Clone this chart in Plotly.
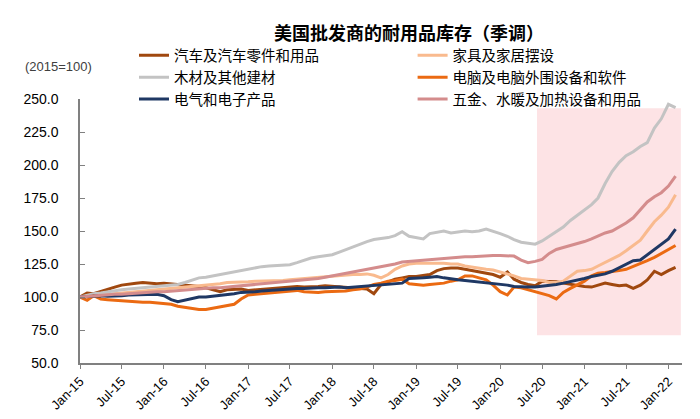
import pandas as pd
import plotly.graph_objects as go

months = pd.date_range("2015-01-01", "2022-02-01", freq="MS").strftime("%Y-%m-%d").tolist()

auto = [100, 103, 102.5, 104, 105.5, 107.5, 109, 110, 110.5, 111, 110.5, 110,
        110.5, 110, 109.5, 109.5, 109, 108, 107, 105.5, 104, 105.5, 106, 106,
        105, 105.5, 106, 106.5, 107, 107.5, 108, 108, 107.5, 107.5, 108, 108.5,
        108, 107.5, 107, 107, 106.5, 106, 102.5, 109.5, 111.5, 113.5, 114.5, 115.5,
        115.5, 116, 117, 120, 121.5, 122, 122, 121, 120, 119, 118, 117,
        115, 119, 113.5, 111, 109.5, 108.5, 112, 112, 111.5, 110.5, 109.5, 109,
        108, 107.5, 109, 110.5, 109.5, 108.5, 109, 106.5, 109, 113, 119.5, 117,
        120, 122.5]

furniture = [100, 100.5, 101, 101.5, 102, 102.5, 103, 103.5, 104, 104.5, 105, 105.5,
             106, 106, 106.5, 107, 107.5, 108, 108.5, 109, 110, 111, 111, 111.5,
             111.5, 112, 112, 112, 112.5, 112.5, 113, 113.5, 113.5, 114, 114.5, 115,
             115.5, 116, 116.5, 117, 117, 117.5, 116.5, 114.5, 117, 121, 123.5, 125,
             125.5, 125.5, 125.5, 126, 125.5, 125, 125, 123.5, 122.5, 122, 121, 120.5,
             119, 117.5, 116, 114, 113.5, 113.5, 112.5, 111, 111, 112, 116, 119.5,
             120, 121, 123.5, 126, 129, 131.5, 135, 139, 143, 150, 157, 162,
             168, 177.5]

lumber = [100, 101.5, 102.5, 103, 104, 104.5, 105.5, 106, 106.5, 107, 107.5, 108,
          108, 108.5, 109.5, 111, 113, 114.5, 115, 116, 117, 118, 119.5, 120.5,
          121, 122, 123, 123.5, 124, 124, 124.5, 126, 128, 129.5, 130.5, 131,
          132, 134, 136, 138, 140, 142, 143.5, 144, 145, 146.5, 149.5, 146,
          145, 144, 148, 149, 150, 148.5, 149, 150, 149.5, 150, 151.5, 150,
          148, 146, 143.5, 141.5, 140.5, 140, 142.5, 146, 149, 153, 158, 162,
          166, 170, 175, 186, 195, 202, 207, 210, 214, 217, 228, 235,
          246, 243.5]

computer = [100, 97.5, 101, 98.5, 98, 97.5, 97, 97, 96.5, 96, 96, 95.5,
            95, 94.5, 93, 92, 91, 90.5, 90.5, 91.5, 92.5, 93.5, 94.5, 98.5,
            101.5, 102, 102.5, 103, 103.5, 104, 104.5, 105, 104, 103.5, 103.5, 104,
            104, 104, 104.5, 105.5, 106, 107.5, 109.5, 110.5, 112, 112.5, 113.5, 110,
            109.5, 109, 109.5, 110, 110.5, 112, 113, 116, 116, 114.5, 113, 109,
            104, 101.5, 107.5, 107, 105.5, 104, 102, 101, 98.5, 103.5, 106.5, 109,
            112, 116, 118, 118.5, 119, 120, 121, 123, 125, 127.5, 130, 133,
            136, 139]

electrical = [100, 100.5, 101, 101, 100.5, 100.5, 101, 101.5, 101.5, 101.5, 102, 102,
              101, 98, 96.5, 97.5, 99, 100, 100, 100.5, 101, 101.5, 102.5, 103.5,
              103.5, 104, 104.5, 105, 105.5, 106, 106, 106.5, 106.5, 107, 107, 107,
              107.5, 107.5, 107, 107.5, 108, 108.5, 108.5, 109.5, 109.5, 110, 110.5, 114,
              114, 114.5, 115, 115.5, 114.5, 113.5, 113, 112.5, 112, 111.5, 111, 110.5,
              110, 109, 108, 107.5, 107.5, 107.5, 108, 109, 109.5, 110.5, 111.5, 113,
              114, 115.5, 116.5, 117.5, 119.5, 122, 125, 127.5, 128, 132, 136, 140,
              144, 151.5]

hardware = [100, 100.5, 101, 101, 101.5, 102, 102, 102.5, 103, 103, 103.5, 104,
            104, 104.5, 104.5, 105, 105.5, 106, 106.5, 107, 107, 107.5, 108, 108,
            108.5, 109, 109.5, 110, 110.5, 111, 111.5, 112, 113, 113.5, 114, 115,
            116, 117, 118, 119, 120, 121, 122, 123, 124, 125, 126.5, 127,
            127, 127.5, 128, 128.5, 129, 129.5, 130, 130.5, 130.5, 131, 131.5, 131.5,
            131.5, 131.5, 131, 128, 126, 127, 128.5, 133, 136, 137.5, 139, 140,
            142, 144, 146, 148.5, 150, 153, 156, 160, 166, 172, 176, 179,
            184, 191.5]

names = ["汽车及汽车零件和用品", "家具及家居摆设", "木材及其他建材",
         "电脑及电脑外围设备和软件", "电气和电子产品", "五金、水暖及加热设备和用品"]
series = [auto, furniture, lumber, computer, electrical, hardware]
colors = ["#A0480F", "#F9BA8E", "#C3C3C3", "#EB6A12", "#1F3864", "#D48C8C"]
legend_ids = ["legend", "legend2", "legend", "legend2", "legend", "legend2"]

shade_x = ["2020-06-09", "2022-02-24"]
shade_y = [71, 243]

FONT = "Liberation Sans, Arial, Noto Sans CJK SC, sans-serif"
CJK = "Noto Sans CJK SC, Liberation Sans, sans-serif"

fig = go.Figure()
for name, vals, col, lg in zip(names, series, colors, legend_ids):
    fig.add_trace(go.Scatter(x=months, y=vals, name=name, mode="lines",
                             line=dict(color=col, width=3), legend=lg))

fig.add_shape(type="rect", xref="x", yref="y", x0=shade_x[0], x1=shade_x[1],
              y0=shade_y[0], y1=shade_y[1], fillcolor="#FDE3E5", line_width=0,
              layer="below")

legend_common = dict(xanchor="left", yanchor="top", orientation="v",
                     xref="container", yref="container",
                     bgcolor="rgba(0,0,0,0)", font=dict(family=CJK, size=14.5),
                     itemwidth=30, tracegroupgap=0)

fig.update_layout(
    width=700, height=419,
    margin=dict(l=72, r=26, t=91, b=64, autoexpand=False),
    paper_bgcolor="white", plot_bgcolor="white",
    font=dict(family=FONT, color="black", size=12),
    title=dict(text="<b>美国批发商的耐用品库存（季调）</b>", x=0.573, xanchor="center",
               y=0.938, yanchor="middle", font=dict(family=CJK, size=18, color="black")),
    showlegend=True,
    legend=dict(x=0.18, y=0.925, **legend_common),
    legend2=dict(x=0.578, y=0.925, **legend_common),
    xaxis=dict(type="date", range=["2015-01-01", "2022-03-01"], tickformat="%b-%y",
               dtick="M6", tick0="2015-01-01", tickangle=-45, ticks="outside",
               ticklen=4, tickcolor="#808080", showline=True, linecolor="#808080",
               linewidth=1.5, showgrid=False, zeroline=False,
               tickfont=dict(size=13, family=FONT)),
    yaxis=dict(range=[50, 250], dtick=25, tick0=50, tickformat=".1f", ticks="inside",
               ticklen=5, tickcolor="#808080", showline=True, linecolor="#808080",
               linewidth=1.5, showgrid=False, zeroline=False, ticklabelstandoff=17,
               tickfont=dict(size=14, family=FONT)),
    annotations=[dict(text="(2015=100)", xref="paper", yref="paper",
                      x=(15 - 72) / 602, y=(355 - 58) / 264,
                      xanchor="left", yanchor="middle", showarrow=False,
                      font=dict(size=13, color="#404040", family=FONT))],
)

fig.write_html("out.html")
